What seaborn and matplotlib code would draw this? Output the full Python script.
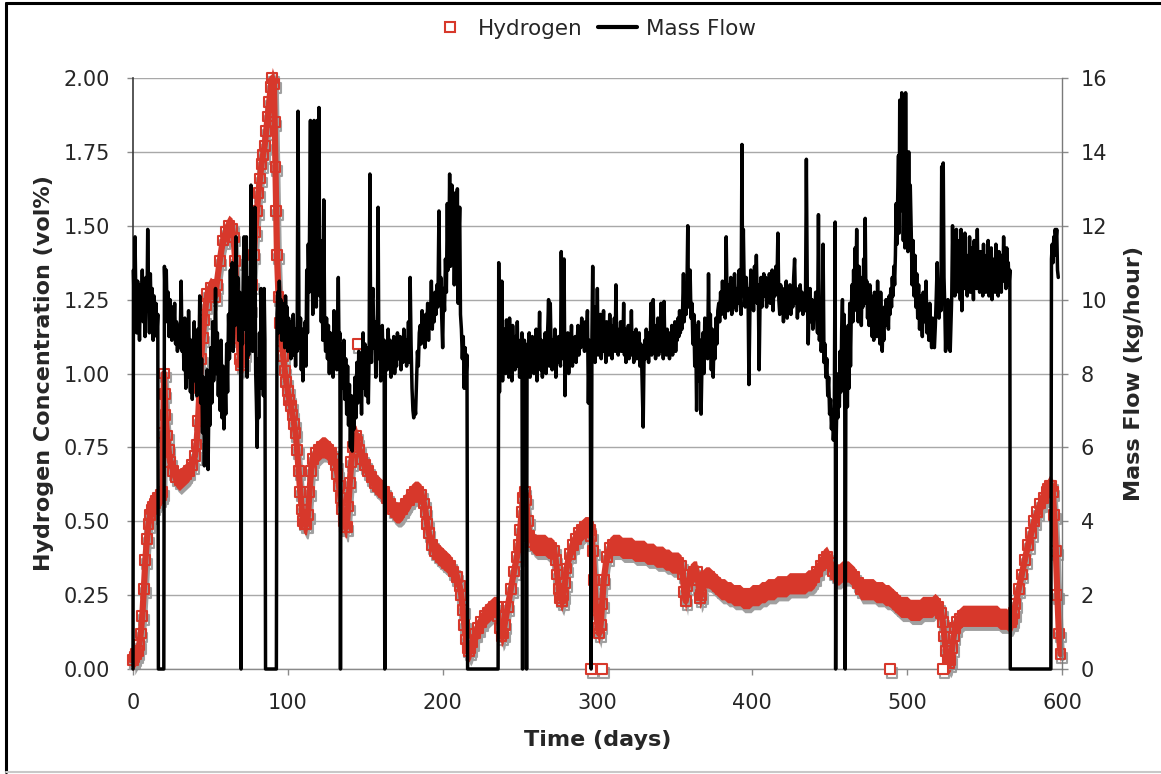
import numpy as np
import pandas as pd
import matplotlib
matplotlib.use("Agg")
import matplotlib.pyplot as plt
import seaborn as sns
from matplotlib.transforms import ScaledTranslation
from matplotlib.lines import Line2D

# ---------------- Hydrogen concentration (vol%) ----------------
h_day = [0, 1, 2, 3, 4, 5, 6, 7, 8, 9,
         10, 11, 12, 13, 14, 15, 16, 17, 18, 19,
         19.5, 20, 20.5, 21, 22, 23, 24, 26, 28, 30,
         32, 34, 36, 38, 40, 41, 42, 43, 44, 45,
         46, 47, 48, 50, 52, 53, 54, 56, 58, 60,
         62, 64, 65, 66, 67, 68, 69, 70, 71, 72,
         74, 76, 77, 78, 79, 80, 81, 82, 83, 84,
         85, 86, 87, 88, 89, 90, 91, 91.5, 92, 92.5,
         93, 94, 95, 96, 97, 98, 99, 100, 101, 102,
         103, 104, 105, 106, 107, 108, 109, 110, 111, 112,
         113, 114, 115, 116, 118, 120, 122, 124, 126, 128,
         130, 131, 132, 133, 134, 135, 136, 137, 138, 139,
         140, 141, 142, 143, 144, 145, 146, 148, 150, 152,
         154, 156, 158, 160, 162, 164, 166, 168, 170, 172,
         174, 176, 178, 180, 182, 184, 186, 188, 189, 190,
         191, 193, 195, 197, 199, 201, 203, 205, 207, 209,
         211, 212, 213, 214, 215, 216, 217, 218, 219, 221,
         223, 225, 227, 229, 231, 233, 235, 236, 237, 238,
         239, 240, 242, 244, 246, 248, 249, 250, 251, 252,
         253, 254, 255, 256, 258, 260, 262, 264, 266, 268,
         270, 272, 273, 274, 275, 276, 277, 278, 279, 280,
         282, 284, 286, 288, 290, 292, 293, 294, 295, 296,
         297, 298, 299, 300, 301, 302, 303, 304, 306, 308,
         310, 312, 314, 316, 318, 320, 322, 324, 326, 328,
         330, 332, 334, 336, 338, 340, 342, 344, 346, 348,
         350, 352, 354, 355, 356, 357, 358, 360, 362, 364,
         365, 366, 367, 368, 370, 372, 374, 376, 378, 380,
         382, 384, 386, 388, 390, 392, 394, 396, 398, 400,
         402, 404, 406, 408, 410, 412, 414, 416, 418, 420,
         422, 424, 426, 428, 430, 432, 434, 436, 438, 440,
         442, 444, 446, 448, 450, 452, 454, 456, 458, 460,
         462, 464, 466, 468, 470, 472, 474, 476, 478, 480,
         482, 484, 486, 488, 490, 492, 494, 496, 498, 500,
         502, 504, 506, 508, 510, 512, 514, 516, 518, 520,
         522, 523, 524, 525, 526, 527, 528, 529, 530, 531,
         532, 534, 536, 538, 540, 542, 544, 546, 548, 550,
         552, 554, 556, 558, 560, 562, 564, 566, 567, 568,
         569, 570, 572, 574, 576, 578, 580, 582, 584, 586,
         588, 590, 591, 592, 593, 594, 595, 596, 597, 598,
         599]
h_val = [0.03, 0.04, 0.05, 0.06, 0.08, 0.12, 0.18, 0.27, 0.37, 0.44,
         0.49, 0.52, 0.54, 0.55, 0.56, 0.57, 0.58, 0.58, 0.59, 0.60,
         0.80, 1.00, 0.93, 0.86, 0.79, 0.74, 0.70, 0.67, 0.65, 0.64,
         0.65, 0.66, 0.67, 0.69, 0.72, 0.76, 0.84, 0.95, 1.05, 1.12,
         1.18, 1.23, 1.27, 1.29, 1.28, 1.26, 1.30, 1.38, 1.45, 1.48,
         1.50, 1.49, 1.46, 1.38, 1.25, 1.12, 1.05, 1.03, 1.04, 1.07,
         1.14, 1.22, 1.30, 1.40, 1.48, 1.55, 1.61, 1.66, 1.71, 1.74,
         1.77, 1.82, 1.87, 1.92, 1.97, 2.00, 1.98, 1.85, 1.70, 1.55,
         1.40, 1.26, 1.17, 1.11, 1.06, 1.01, 0.97, 0.94, 0.91, 0.89,
         0.86, 0.83, 0.80, 0.74, 0.67, 0.60, 0.54, 0.50, 0.49, 0.49,
         0.52, 0.60, 0.67, 0.71, 0.73, 0.74, 0.75, 0.75, 0.74, 0.73,
         0.71, 0.69, 0.66, 0.62, 0.58, 0.54, 0.50, 0.48, 0.48, 0.55,
         0.63, 0.70, 0.75, 0.78, 0.79, 0.77, 0.74, 0.71, 0.69, 0.67,
         0.65, 0.63, 0.62, 0.61, 0.60, 0.58, 0.56, 0.54, 0.53, 0.53,
         0.54, 0.56, 0.57, 0.59, 0.60, 0.60, 0.59, 0.56, 0.53, 0.49,
         0.46, 0.42, 0.40, 0.39, 0.38, 0.37, 0.36, 0.35, 0.33, 0.31,
         0.28, 0.25, 0.20, 0.15, 0.10, 0.07, 0.06, 0.07, 0.09, 0.12,
         0.14, 0.16, 0.18, 0.19, 0.20, 0.21, 0.21, 0.18, 0.14, 0.11,
         0.12, 0.15, 0.21, 0.27, 0.33, 0.38, 0.42, 0.47, 0.53, 0.58,
         0.60, 0.57, 0.50, 0.45, 0.43, 0.42, 0.42, 0.42, 0.42, 0.41,
         0.41, 0.40, 0.37, 0.32, 0.27, 0.24, 0.23, 0.25, 0.29, 0.34,
         0.39, 0.42, 0.44, 0.46, 0.47, 0.48, 0.48, 0.48, 0.47, 0.45,
         0.40, 0.30, 0.20, 0.14, 0.12, 0.15, 0.22, 0.30, 0.38, 0.41,
         0.42, 0.42, 0.42, 0.41, 0.41, 0.41, 0.41, 0.40, 0.40, 0.40,
         0.40, 0.39, 0.39, 0.39, 0.38, 0.38, 0.38, 0.37, 0.37, 0.36,
         0.36, 0.36, 0.35, 0.32, 0.26, 0.23, 0.28, 0.32, 0.33, 0.33,
         0.30, 0.24, 0.25, 0.30, 0.31, 0.31, 0.30, 0.29, 0.28, 0.27,
         0.27, 0.26, 0.26, 0.25, 0.25, 0.25, 0.24, 0.24, 0.24, 0.25,
         0.25, 0.25, 0.26, 0.26, 0.27, 0.27, 0.27, 0.28, 0.28, 0.28,
         0.28, 0.29, 0.29, 0.29, 0.29, 0.29, 0.29, 0.30, 0.30, 0.31,
         0.33, 0.35, 0.37, 0.38, 0.36, 0.33, 0.32, 0.32, 0.33, 0.33,
         0.33, 0.32, 0.31, 0.29, 0.27, 0.27, 0.27, 0.27, 0.27, 0.26,
         0.26, 0.26, 0.25, 0.25, 0.24, 0.23, 0.22, 0.21, 0.21, 0.21,
         0.20, 0.20, 0.20, 0.20, 0.21, 0.21, 0.21, 0.21, 0.22, 0.21,
         0.19, 0.16, 0.11, 0.06, 0.03, 0.02, 0.03, 0.07, 0.11, 0.14,
         0.16, 0.17, 0.18, 0.18, 0.18, 0.18, 0.18, 0.18, 0.18, 0.18,
         0.18, 0.18, 0.18, 0.18, 0.17, 0.17, 0.17, 0.16, 0.16, 0.17,
         0.19, 0.22, 0.27, 0.32, 0.37, 0.42, 0.46, 0.50, 0.53, 0.56,
         0.58, 0.60, 0.61, 0.62, 0.62, 0.60, 0.52, 0.40, 0.25, 0.12,
         0.05]
# isolated hydrogen readings
h_out_day = [145, 296, 303, 489, 523]
h_out_val = [1.10, 0.0, 0.0, 0.0, 0.0]

# ---------------- Mass flow (kg/hour), by period ----------------
flow_t_a = [0, 0.3, 0.8, 1.3, 1.8, 2.4, 3.0, 3.6, 4.2, 4.8,
            5.4, 6.0, 6.6, 7.2, 7.8, 8.4, 9.0, 9.5, 10.0, 10.6,
            11.2, 11.8, 12.4, 13.0, 13.6, 14.2, 14.8, 15.4, 16.0, 16.4,
            19.9, 20.3, 20.9, 21.5, 22.1, 22.7, 23.3, 23.9, 24.5, 25.1,
            25.7, 26.3, 26.9, 27.5, 28.1, 28.7, 29.3, 29.9, 30.5, 31.1,
            31.7]
flow_v_a = [0, 10.8, 9.6, 11.7, 10.2, 9.1, 10.5, 9.8, 8.9, 10.4,
            9.6, 10.8, 9.4, 10.1, 9.0, 10.6, 9.7, 11.9, 10.2, 9.1,
            10.7, 9.5, 10.3, 8.9, 10.1, 9.3, 9.9, 9.0, 9.6, 0,
            0, 10.9, 9.8, 10.8, 9.4, 10.2, 9.0, 10.0, 9.5, 8.9,
            9.8, 9.1, 9.9, 8.8, 9.4, 8.6, 9.3, 8.7, 9.0, 10.5,
            8.6]

flow_t_b = [32.3, 32.9, 33.5, 34.1, 34.7, 35.3, 35.9, 36.5, 37.1, 37.7,
            38.3, 38.9, 39.5, 40.1, 40.7, 41.3, 41.9, 42.5, 43.1, 43.7,
            44.3, 44.9, 45.5, 46.1, 46.7, 47.3, 47.9, 48.5, 49.1, 49.7,
            50.3, 50.9, 51.5, 52.1, 52.7, 53.3, 53.9, 54.5, 55.1, 55.7,
            56.3, 56.9, 57.5, 58.1, 58.7, 59.3, 59.9, 60.5, 61.1, 61.7,
            62.3, 62.9, 63.5, 64.1, 64.7, 65.3, 65.9, 66.5, 67.1, 67.7,
            68.3, 68.9, 69.5, 69.8, 70.2]
flow_v_b = [9.2, 8.1, 9.5, 7.6, 8.8, 7.9, 9.7, 8.3, 7.5, 8.9,
            7.3, 8.6, 9.4, 7.8, 8.7, 7.4, 9.2, 8.0, 10.1, 7.2,
            8.4, 6.4, 7.9, 5.5, 7.0, 6.2, 8.1, 5.4, 7.6, 6.6,
            8.7, 7.2, 9.4, 7.8, 8.5, 10.3, 8.0, 9.1, 7.4, 8.6,
            7.0, 8.9, 6.8, 8.2, 6.5, 7.9, 6.9, 8.8, 7.5, 9.6,
            8.4, 10.8, 9.0, 11.0, 8.6, 10.1, 9.3, 11.7, 9.8, 10.6,
            8.9, 10.2, 9.0, 0, 9.5]

flow_t_c = [70.7, 71.2, 71.7, 72.2, 72.7, 73.2, 73.7, 74.2, 74.7, 75.2,
            75.7, 76.2, 76.7, 77.2, 77.7, 78.2, 78.7, 79.2, 79.7, 80.2,
            80.7, 81.2, 81.7, 82.2, 82.7, 83.2, 83.7, 84.2, 84.7, 85.2,
            85.6, 92.6, 93.0, 93.5, 94.0, 94.5, 95.0, 95.5, 96.0, 96.5,
            97.0, 97.5, 98.0, 98.5, 99.0, 99.5, 100.0, 100.5, 101.0, 101.5,
            102.0, 102.5, 103.0, 103.5, 104.0, 104.5, 105.0, 105.5, 106.0, 106.6,
            107.2, 107.7, 108.2, 108.7, 109.2, 109.7, 110.2, 110.7, 111.2, 111.7,
            112.2, 112.7, 113.2, 113.7, 114.2, 114.6, 115.1, 115.6, 116.1, 116.6,
            116.9, 117.4, 117.9, 118.4, 118.9, 119.3, 119.7, 120.1, 120.6, 121.1,
            121.6, 122.1, 122.6, 123.2, 123.8, 124.4, 125.0, 125.6, 126.2, 126.8,
            127.4, 128.0, 128.6, 129.2, 129.8, 130.4, 131.0, 131.6, 132.2, 132.6,
            133.1, 133.6, 134.0, 134.4]
flow_v_c = [8.8, 10.7, 11.7, 9.2, 10.9, 11.7, 7.9, 9.8, 8.5, 10.6,
            9.0, 13.1, 9.4, 8.6, 11.2, 9.7, 12.5, 8.1, 7.2, 6.0,
            8.4, 6.8, 9.1, 7.6, 10.3, 8.8, 9.9, 7.4, 10.3, 8.9,
            0, 0, 9.6, 10.2, 9.1, 10.5, 9.7, 10.0, 8.9, 9.9,
            9.2, 9.6, 8.7, 10.1, 9.3, 9.8, 8.6, 9.5, 9.0, 9.4,
            8.4, 9.3, 8.8, 9.6, 8.5, 9.1, 8.2, 9.2, 8.6, 15.1,
            9.3, 8.7, 9.5, 8.1, 9.2, 7.8, 9.0, 8.5, 9.4, 8.2,
            10.8, 9.1, 11.5, 10.2, 12.8, 14.85, 10.4, 11.8, 9.6, 14.7,
            14.85, 10.9, 12.4, 9.8, 14.85, 11.2, 13.5, 15.2, 10.1, 11.6,
            9.4, 10.8, 8.9, 12.7, 9.2, 8.6, 9.5, 8.4, 9.3, 8.0,
            9.1, 8.3, 8.9, 7.9, 9.7, 8.2, 9.0, 8.1, 9.4, 10.6,
            8.5, 9.1, 0, 8.8]

flow_t_d = [135.0, 135.6, 136.2, 136.8, 137.4, 138.0, 138.6, 139.2, 139.8, 140.4,
            141.0, 141.6, 142.2, 142.8, 143.4, 144.0, 144.6, 145.2, 145.8, 146.4,
            147.0, 147.6, 148.2, 148.6, 149.2, 149.8, 150.4, 150.8, 151.4, 152.0,
            152.5, 153.0, 153.5, 154.0, 154.5, 155.0, 155.6, 156.2, 156.8, 157.4,
            157.9, 158.3, 158.8, 159.4, 160.0, 160.4, 161.0, 161.6, 162.2, 162.6,
            163.0,
            163.6, 164.2, 164.8, 165.4, 166.0, 166.6, 167.2, 167.8, 168.4, 169.0,
            169.6, 170.2, 170.8, 171.4, 172.0, 172.5, 173.1, 173.7, 174.3, 174.9,
            175.5, 176.1, 176.7, 177.3, 177.9, 178.5, 179.0, 179.6, 180.2, 180.8,
            181.3, 181.9, 182.5, 183.1, 183.7, 184.3, 184.9,
            185.5, 186.1, 186.7, 187.3, 187.9, 188.5, 189.1, 189.7, 190.3, 190.9,
            191.5, 192.1, 192.7, 193.3, 193.9, 194.5, 195.1, 195.7, 196.3, 196.9,
            197.6, 198.2, 198.8, 199.4, 200.0, 200.6, 201.2, 201.8, 202.4, 203.0,
            203.5, 204.0, 204.5, 205.0, 205.5, 206.0, 206.5, 207.0, 207.5, 208.0,
            208.5, 209.0, 209.5, 210.0, 210.5, 211.0, 211.5, 212.1, 212.7, 213.3,
            213.9, 214.5, 215.1, 215.7, 216.1]
flow_v_d = [8.1, 7.6, 8.9, 7.3, 8.4, 6.9, 8.2, 6.6, 7.7, 6.0,
            7.4, 5.9, 7.1, 6.5, 7.9, 6.8, 8.3, 7.2, 8.6, 7.5,
            8.0, 6.9, 8.4, 9.1, 7.6, 8.8, 7.4, 7.9, 8.7, 7.2,
            8.5, 13.4, 9.0, 8.3, 10.0, 10.3, 8.7, 9.4, 7.9, 8.8,
            9.6, 12.5, 8.4, 9.2, 7.8, 8.6, 9.3, 8.0, 8.9, 0,
            8.6,
            8.8, 8.1, 9.2, 8.4, 8.9, 7.9, 8.7, 8.3, 9.0, 8.0,
            8.6, 8.2, 9.1, 8.4, 8.8, 9.0, 8.1, 8.7, 8.3, 9.2,
            8.5, 8.9, 8.2, 8.6, 9.4, 8.3, 10.6, 8.8, 7.6, 7.0,
            6.8, 7.2, 6.9, 7.8, 8.6, 8.2, 9.1,
            9.3, 8.8, 9.7, 9.0, 9.5, 8.7, 9.6, 9.1, 9.9, 8.9,
            9.8, 9.4, 10.5, 9.2, 10.0, 9.4, 10.2, 9.6, 10.4, 9.8,
            12.4, 9.9, 10.6, 9.5, 8.7, 10.3, 9.7, 11.1, 10.2, 12.6,
            10.8, 11.4, 13.4, 10.9, 12.0, 13.1, 11.2, 12.8, 10.4, 11.9,
            12.9, 10.6, 13.0, 9.9, 11.7, 12.5, 9.6, 9.2, 8.4, 9.0,
            7.6, 8.7, 7.9, 8.5, 0]

flow_t_e = [235.8, 236.2, 236.7, 237.2, 237.7, 238.2, 238.7, 239.2, 239.7, 240.2,
            240.7, 241.2, 241.7, 242.2, 242.7, 243.2, 243.7, 244.2, 244.7, 245.2,
            245.7, 246.2, 246.7, 247.2, 247.7, 248.2, 248.7, 249.2, 249.7, 250.2,
            250.7, 251.2, 251.6, 251.9, 252.3, 252.8, 253.3, 253.8, 254.2, 254.5,
            254.9,
            255.4, 255.9, 256.4, 256.9, 257.4, 257.9, 258.4, 258.9, 259.4, 259.9,
            260.4, 260.9, 261.4, 261.9, 262.6, 263.2, 263.8, 264.4, 265.0, 265.6,
            266.2, 266.8, 267.4, 268.0, 268.4, 269.0, 269.5, 270.1, 270.7, 271.3,
            271.9, 272.5, 273.1, 273.7, 274.3, 274.9, 275.5, 276.1, 276.6, 277.2,
            277.8, 278.4, 279.0, 279.6, 280.2, 280.8, 281.4, 282.0, 282.6, 283.2,
            283.8, 284.4, 285.0, 285.6, 286.2, 286.8, 287.4, 288.0, 288.6, 289.2,
            289.8, 290.4, 291.0, 291.6, 292.2, 292.8, 293.5, 294.1, 294.7, 295.3,
            295.9]
flow_v_e = [0, 11.0, 7.5, 9.6, 8.2, 10.5, 7.8, 8.9, 8.3, 9.2,
            8.0, 9.45, 8.4, 8.9, 7.9, 9.5, 8.6, 9.1, 7.8, 9.3,
            8.5, 8.8, 8.1, 9.0, 8.3, 9.4, 8.2, 8.7, 7.9, 8.9,
            8.4, 9.1, 0, 8.6, 8.2, 8.9, 8.0, 8.7, 0, 8.4,
            8.8,
            8.3, 9.1, 7.9, 8.6, 8.2, 9.0, 8.4, 8.0, 8.8, 8.3,
            9.2, 7.8, 8.7, 8.5, 9.66, 8.1, 8.9, 7.9, 8.6, 8.3,
            9.1, 8.0, 8.7, 9.4, 10.0, 8.2, 9.9, 8.6, 8.1, 8.9,
            8.4, 9.2, 7.9, 8.6, 8.3, 9.0, 8.5, 8.2, 11.3, 9.0,
            8.4, 11.1, 7.4, 8.8, 8.3, 9.1, 8.0, 8.7, 8.5, 9.3,
            8.2, 8.9, 8.6, 9.0, 8.3, 8.8, 9.3, 8.5, 9.1, 8.7,
            9.5, 8.9, 9.2, 8.6, 9.4, 8.8, 9.7, 7.2, 8.9, 8.4,
            0]

flow_t_f = [296.4, 296.9, 297.4, 297.9, 298.4, 298.9, 299.4, 299.9, 300.4, 300.9,
            301.4, 301.9, 302.4, 302.9, 303.4, 303.9, 304.4, 304.9, 305.4, 305.9,
            306.4, 306.9, 307.4, 307.9, 308.4, 308.9, 309.4, 309.9, 310.4, 310.9,
            311.4, 311.9, 312.4, 312.9, 313.4, 313.9, 314.4, 314.9, 315.4, 315.9,
            316.4, 316.9, 317.4, 317.9, 318.4, 318.9, 319.4, 319.9, 320.4, 320.9,
            321.4, 321.9, 322.4, 322.9, 323.4, 323.9, 324.4, 324.9, 325.4, 325.9,
            326.4, 326.9, 327.4, 327.9, 328.4, 328.9, 329.5, 330.0, 330.5, 331.0,
            331.5, 332.0, 332.5, 333.0, 333.5, 334.0, 334.5, 335.0, 335.5, 336.0,
            336.5, 337.0, 337.5, 338.0, 338.5, 339.0, 339.5, 340.0, 340.5, 341.0,
            341.5, 342.0, 342.5, 343.0, 343.5, 344.0, 344.5, 345.0, 345.5, 346.0,
            346.5, 347.0, 347.5, 348.0, 348.5, 349.0, 349.5, 350.0, 350.5, 351.0,
            351.5, 352.0, 352.5, 353.0, 353.5, 354.0, 354.5, 355.0, 355.5,
            356.0, 356.6, 357.2, 357.8, 358.3, 358.8, 359.3, 359.8, 360.4, 361.0,
            361.6, 362.2, 362.8, 363.4, 364.0, 364.6, 365.2, 365.8, 366.4, 366.9,
            367.5, 368.1, 368.7, 369.3, 369.9, 370.5, 371.1, 371.7, 372.3, 372.9,
            373.5, 374.1, 374.7, 375.3, 375.9, 376.5, 377.1, 377.7]
flow_v_f = [9.0, 10.9, 8.6, 9.8, 8.3, 9.5, 8.8, 10.3, 8.5, 9.2,
            8.7, 9.6, 8.4, 9.1, 8.9, 9.7, 8.6, 9.0, 8.3, 9.4,
            8.8, 9.1, 8.5, 9.6, 8.7, 9.3, 8.4, 9.0, 8.8, 9.5,
            8.6, 10.4, 8.9, 9.2, 8.5, 9.0, 8.7, 9.4, 8.6, 9.1,
            8.8, 9.9, 8.5, 9.2, 8.3, 8.9, 8.6, 9.3, 8.4, 9.0,
            8.7, 9.7, 8.5, 9.1, 8.3, 8.8, 8.6, 9.2, 8.4, 8.9,
            8.7, 9.1, 8.2, 8.8, 8.5, 7.6, 6.55, 8.3, 8.9, 8.4,
            9.2, 8.6, 8.8, 8.3, 9.1, 8.7, 9.9, 8.5, 9.0, 10.0,
            8.6, 9.3, 8.4, 9.0, 8.7, 9.5, 8.5, 9.1, 8.8, 9.9,
            8.6, 9.2, 8.4, 9.95, 8.7, 9.1, 8.5, 9.2, 8.6, 8.9,
            8.4, 9.1, 8.7, 9.3, 8.5, 9.0, 8.8, 9.4, 8.6, 9.2,
            8.9, 9.5, 9.0, 9.7, 9.1, 9.6, 9.2, 9.8, 10.7,
            9.4, 10.1, 9.6, 10.4, 12.0, 9.8, 10.2, 10.8, 9.5, 9.9,
            8.8, 9.6, 8.2, 9.3, 7.0, 8.5, 9.4, 7.8, 8.9, 6.9,
            8.3, 9.1, 8.0, 9.5, 8.6, 9.3, 8.4, 10.7, 8.7, 9.6,
            8.1, 9.2, 7.9, 9.0, 8.4, 9.5, 8.8, 9.7]

flow_t_g = [378.3, 378.9, 379.5, 380.1, 380.7, 381.3, 381.9, 382.5, 383.1, 383.7,
            384.3, 384.9, 385.5, 386.1, 386.7, 387.3, 387.9, 388.5, 389.1, 389.7,
            390.3, 390.9, 391.5, 392.1, 392.7, 393.3, 393.7, 394.2, 394.8, 395.4,
            396.0, 396.6, 397.2, 397.8, 398.4, 399.0, 399.6, 400.2, 400.8, 401.4,
            402.0, 402.6, 403.2, 403.8, 404.4, 405.0, 405.6, 406.2, 406.8, 407.4,
            408.0, 408.6, 409.2, 409.8, 410.4, 411.0, 411.6, 412.2, 412.8, 413.4,
            414.0, 414.6, 415.2, 415.8, 416.5, 417.1, 417.7, 418.3, 418.9, 419.5,
            420.1, 420.7, 421.3, 421.9, 422.5, 423.1, 423.7, 424.3, 424.9, 425.5,
            426.1, 426.7, 427.3, 427.9, 428.5, 429.1, 429.7, 430.3, 430.9, 431.5,
            432.1, 432.7, 433.2, 433.7, 434.3, 434.9, 435.5, 436.1, 436.7, 437.3,
            437.9, 438.5, 439.1, 439.7, 440.3, 440.9, 441.5, 442.1, 442.7, 443.3,
            443.9, 444.5, 445.1, 445.7, 446.3, 446.9, 447.5, 448.1, 448.7, 449.3,
            449.9, 450.5, 451.1, 451.7, 452.3, 452.9, 453.5, 453.8]
flow_v_g = [9.9, 9.4, 10.2, 9.6, 10.5, 9.8, 10.1, 9.5, 11.7, 10.0,
            9.7, 10.4, 9.9, 10.6, 9.6, 10.2, 9.8, 10.7, 10.0, 9.7,
            10.3, 9.9, 10.8, 10.1, 9.6, 14.2, 10.4, 11.9, 10.2, 9.8,
            10.6, 9.9, 10.3, 7.7, 9.6, 10.8, 10.1, 10.5, 9.7, 10.9,
            10.2, 11.2, 9.9, 10.4, 8.1, 10.0, 10.6, 9.8, 10.3, 10.7,
            10.1, 10.6, 9.8, 10.4, 10.0, 10.7, 9.9, 10.3, 10.8, 9.7,
            10.5, 10.1, 10.9, 10.2, 11.8, 10.0, 9.6, 10.4, 9.9, 10.3,
            9.4, 10.2, 9.8, 10.5, 9.5, 10.1, 9.9, 10.4, 9.6, 10.2,
            9.8, 10.6, 11.1, 9.9, 10.3, 9.5, 10.1, 9.7, 10.4, 9.9,
            10.2, 9.6, 10.0, 10.1, 9.7, 13.8, 10.2, 8.8, 9.9, 10.3,
            9.4, 10.0, 9.2, 9.8, 9.5, 10.2, 9.6, 9.1, 12.3, 8.9,
            9.4, 8.6, 9.1, 11.5, 8.3, 8.8, 7.9, 8.4, 7.4, 7.9,
            6.9, 7.3, 6.5, 7.0, 6.2, 6.6, 12.1, 0]

flow_t_h = [454.2, 454.7, 455.2, 455.7, 456.2, 456.7, 457.2, 457.7, 458.2, 458.7,
            459.2, 459.7, 460.0, 460.4,
            460.9, 461.4, 461.9, 462.4, 462.9, 463.4, 463.9, 464.4, 464.9, 465.4,
            465.9, 466.4, 466.9, 467.4, 467.9, 468.4, 468.9, 469.4, 469.9, 470.4,
            470.9, 471.4, 471.9, 472.4, 472.9, 473.4, 473.9, 474.4, 474.9, 475.4,
            475.9, 476.4, 476.9, 477.4, 477.9, 478.4, 478.9, 479.4, 479.9, 480.4,
            480.9, 481.4, 481.9, 482.4, 482.9, 483.4, 483.9, 484.4, 484.9, 485.4,
            485.9, 486.4, 486.9, 487.4, 487.9, 488.4, 488.9, 489.4, 489.9, 490.4,
            490.9, 491.4, 491.9, 492.4, 492.9, 493.4, 493.9, 494.4, 494.8, 495.2,
            495.6, 496.0, 496.5, 497.0, 497.5, 498.0, 498.5, 499.0, 499.5, 500.0,
            500.5, 501.0, 501.5, 502.0, 502.6, 503.2, 503.8, 504.4, 505.0, 505.6,
            506.2, 506.8, 507.4, 508.0, 508.6, 509.2, 509.8, 510.4, 511.0, 511.6,
            512.2, 512.8, 513.4, 514.0, 514.6, 515.2, 515.8, 516.4, 517.0, 517.6,
            518.2, 518.8, 519.4, 520.0, 520.6, 521.2, 521.8, 522.3, 522.8, 523.3,
            523.8, 524.3, 524.8, 525.3, 525.8, 526.3, 526.8, 527.3, 527.8, 528.3,
            528.8, 529.3, 529.8, 530.3, 530.8, 531.3,
            531.8, 532.3, 532.8, 533.3, 533.8, 534.3, 534.8, 535.3, 535.8, 536.3,
            536.8, 537.3, 537.8, 538.3, 538.8, 539.3, 539.8, 540.3, 540.8, 541.3,
            541.8, 542.3, 542.8, 543.3, 543.8, 544.3, 544.8, 545.3, 545.8, 546.3,
            546.8, 547.3, 547.8, 548.3, 548.8, 549.3, 549.8, 550.3, 550.8, 551.3,
            551.8, 552.3, 552.8, 553.3, 553.8, 554.3, 554.8, 555.3, 555.8, 556.3,
            556.8, 557.3, 557.8, 558.3, 558.8, 559.3, 559.8, 560.3, 560.8, 561.3,
            561.8, 562.3, 562.8, 563.3, 563.8, 564.3, 564.8, 565.3, 565.8, 566.3,
            566.6]
flow_v_h = [6.3, 7.4, 6.8, 8.0, 7.1, 8.6, 7.5, 9.2, 10.0, 8.1,
            9.6, 7.0, 0, 7.2,
            8.4, 7.1, 9.3, 7.6, 9.9, 8.2, 9.6, 10.4, 9.4, 10.8,
            9.7, 11.4, 10.2, 11.9, 10.0, 9.4, 10.9, 9.6, 10.3, 9.3,
            10.6, 9.8, 11.1, 10.0, 12.2, 9.9, 10.5, 9.5, 10.2, 9.3,
            10.4, 9.5, 10.1, 9.0, 9.7, 8.9, 10.2, 9.4, 9.8, 9.0,
            10.5, 9.2, 9.6, 8.8, 10.2, 9.1, 8.6, 9.5, 8.9, 9.8,
            9.3, 10.0, 9.4, 9.9, 9.2, 10.1, 9.6, 10.3, 9.8, 10.6,
            10.1, 10.9, 10.4, 11.2, 12.6, 11.5, 12.8, 13.9, 11.8, 15.4,
            12.4, 13.5, 15.6, 14.5, 11.6, 13.2, 11.4, 15.6, 12.2, 12.9,
            11.3, 14.0, 11.5, 13.1, 11.9, 10.4, 11.6, 10.1, 11.2, 9.8,
            10.7, 9.5, 10.4, 9.2, 10.1, 9.6, 9.0, 10.2, 9.4, 9.8,
            10.5, 9.1, 9.6, 8.9, 9.9, 9.2, 8.7, 9.5, 8.8, 8.7,
            9.3, 10.1, 11.0, 10.0, 9.5, 10.3, 9.7, 13.6, 11.0, 13.7,
            10.6, 9.8, 8.6, 9.7, 8.7, 10.0, 9.2, 9.9, 8.6, 9.4,
            10.1, 12.0, 10.3, 11.6, 10.1, 11.0,
            11.9, 10.4, 11.3, 10.2, 11.6, 10.0, 11.9, 9.7, 10.8, 11.5,
            10.3, 11.8, 10.6, 11.2, 10.1, 11.0, 10.5, 11.7, 10.2, 11.4,
            10.4, 11.0, 10.0, 11.6, 10.6, 11.2, 10.3, 11.9, 10.5, 11.1,
            10.2, 11.3, 10.7, 11.0, 10.1, 11.5, 10.4, 10.9, 10.2, 11.2,
            10.5, 11.6, 10.1, 11.0, 10.3, 11.4, 10.0, 10.8, 10.4, 11.1,
            10.2, 11.5, 10.6, 10.9, 10.1, 11.3, 10.4, 10.8, 10.2, 11.2,
            10.5, 11.7, 10.6, 10.9, 10.3, 11.4, 10.7, 11.0, 10.4, 10.8,
            0]

flow_t_i = [592.8, 593.2, 593.7, 594.2, 594.7, 595.2, 595.6, 596.1, 596.6, 597.1, 597.6]
flow_v_i = [0, 11.1, 11.5, 11.0, 11.7, 11.2, 11.9, 11.6, 11.9, 10.8, 10.6]

x_ticks = [0, 100, 200, 300, 400, 500, 600]
h_ticks = [0.00, 0.25, 0.50, 0.75, 1.00, 1.25, 1.50, 1.75, 2.00]
m_ticks = [0, 2, 4, 6, 8, 10, 12, 14, 16]

# ---------------- assemble tables ----------------
flow_parts = [(flow_t_a, flow_v_a), (flow_t_b, flow_v_b), (flow_t_c, flow_v_c),
              (flow_t_d, flow_v_d), (flow_t_e, flow_v_e), (flow_t_f, flow_v_f),
              (flow_t_g, flow_v_g), (flow_t_h, flow_v_h), (flow_t_i, flow_v_i)]
for i, (t, v) in enumerate(flow_parts):
    if len(t) != len(v):
        raise ValueError(f"flow part {i}: {len(t)} vs {len(v)}")
if len(h_day) != len(h_val):
    raise ValueError(f"hydrogen: {len(h_day)} vs {len(h_val)}")

flow = pd.DataFrame({"day": sum([t for t, _ in flow_parts], []),
                     "flow": sum([v for _, v in flow_parts], [])})
hmain = pd.DataFrame({"day": h_day, "vol": h_val})
hout = pd.DataFrame({"day": h_out_day, "vol": h_out_val})

# ---------------- style ----------------
sns.set_style("white")
plt.rcParams["font.family"] = ["DejaVu Sans"]

RED = "#d7382b"
GRID = "#a8a8a8"
AXC = "#8a8a8a"
SHADOW = "#a0a0a0"
MS = 50          # marker area (pt^2)
LINE = 4.5       # centre line width (pt)
HALF = 0.036     # half thickness of the dense marker band (vol%)

fig = plt.figure(figsize=(11.61, 7.74), dpi=100)
W, H = 1161, 774
ax = fig.add_axes([133 / W, (H - 669) / H, (1062 - 133) / W, (669 - 78) / H])
shift = ax.transData + ScaledTranslation(0.018, -0.04, fig.dpi_scale_trans)


def scatter(df, color, face, edge, z, trans=None):
    sns.scatterplot(data=df, x="day", y="vol", ax=ax, marker="s", s=MS,
                    color=color, linewidth=1.5, legend=False, zorder=z, clip_on=False)
    coll = ax.collections[-1]
    coll.set_facecolor(face)
    coll.set_edgecolor(edge)
    if trans is not None:
        coll.set_offset_transform(trans)


def band(color, z, trans=None):
    poly = ax.fill_between(hmain["day"], hmain["vol"] - HALF, hmain["vol"] + HALF,
                           color=color, linewidth=0, zorder=z, clip_on=False)
    sns.lineplot(data=hmain, x="day", y="vol", ax=ax, color=color, linewidth=LINE,
                 estimator=None, sort=False, legend=False, zorder=z, clip_on=False)
    line = ax.lines[-1]
    line.set_solid_joinstyle("round")
    if trans is not None:
        poly.set_transform(trans)
        line.set_transform(trans)


# drop shadow
band(SHADOW, 1.5, shift)
scatter(hmain, SHADOW, "none", SHADOW, 1.6, shift)
scatter(hout, SHADOW, "none", SHADOW, 1.6, shift)

# hydrogen: dense overlapping hollow squares
band(RED, 2)
scatter(hmain, RED, "none", RED, 3)
scatter(hout, RED, "white", RED, 3)

ax.set_xlim(0, 600)
ax.set_ylim(0, 2)
ax.set_xticks(x_ticks)
ax.set_yticks(h_ticks)
ax.set_yticklabels([f"{v:.2f}" for v in h_ticks])
ax.yaxis.grid(True, color=GRID, linewidth=1.0)
ax.xaxis.grid(False)
ax.set_axisbelow(True)
for s in ["top", "right"]:
    ax.spines[s].set_visible(False)
ax.spines["left"].set_color("#3a3a3a")
ax.spines["bottom"].set_color(AXC)
ax.spines["left"].set_linewidth(1.2)
ax.spines["bottom"].set_linewidth(1.0)
ax.tick_params(axis="y", direction="out", length=4.5, width=1, color=AXC,
               pad=12, labelsize=15, left=True)
ax.tick_params(axis="x", direction="out", length=4.5, width=1, color=AXC,
               pad=13, labelsize=15, bottom=True)
ax.set_xlabel("Time (days)", fontsize=16, fontweight="bold", labelpad=12)
ax.set_ylabel("Hydrogen Concentration (vol%)", fontsize=16, fontweight="bold", labelpad=7)

# mass flow on the right axis
ax2 = ax.twinx()
sns.lineplot(data=flow, x="day", y="flow", ax=ax2, color="black", linewidth=2.5,
             estimator=None, sort=False, legend=False, clip_on=False)
ax2.set_ylim(0, 16)
ax2.set_yticks(m_ticks)
ax2.set_xlim(0, 600)
for s in ["top", "left", "bottom"]:
    ax2.spines[s].set_visible(False)
ax2.spines["right"].set_color("#7a7a7a")
ax2.spines["right"].set_linewidth(1.0)
ax2.tick_params(axis="y", direction="out", length=4.5, width=1, color=AXC,
                pad=9, labelsize=15, right=True)
ax2.set_ylabel("Mass Flow (kg/hour)", fontsize=16, fontweight="bold", labelpad=12)
ax2.grid(False)

# legend
handles = [Line2D([], [], marker="s", linestyle="none", markerfacecolor="white",
                  markeredgecolor=RED, markersize=6.5, markeredgewidth=1.5),
           Line2D([], [], color="black", linewidth=3)]
fig.legend(handles, ["Hydrogen", "Mass Flow"], loc="center",
           bbox_to_anchor=(0.511, 0.963), ncol=2, frameon=False, fontsize=15.5,
           handlelength=1.8, handletextpad=0.4, columnspacing=0.7)

# figure frame
fig.add_artist(Line2D([6 / W, 6 / W], [1 - 3 / H, 2 / H], transform=fig.transFigure,
                      color="black", linewidth=2.2))
fig.add_artist(Line2D([6 / W, 1], [1 - 3 / H, 1 - 3 / H], transform=fig.transFigure,
                      color="black", linewidth=2.2))
fig.add_artist(Line2D([6 / W, 1], [2 / H, 2 / H], transform=fig.transFigure,
                      color="#c8c8c8", linewidth=1.5))

fig.savefig("out.png", dpi=100)
